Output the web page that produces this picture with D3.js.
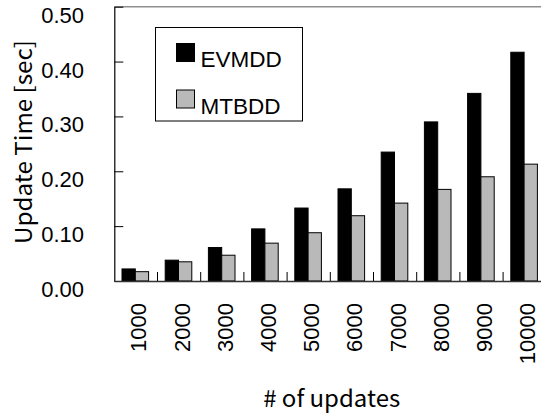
<!DOCTYPE html>
<html>
<head>
<meta charset="utf-8">
<script src="https://cdn.jsdelivr.net/npm/d3@7"></script>
<style>
  html, body { margin: 0; padding: 0; background: #fff; }
  svg { display: block; }
</style>
</head>
<body>
<div id="chart"></div>
<script>
// ---- data ----
const categories = ["1000","2000","3000","4000","5000","6000","7000","8000","9000","10000"];
const seriesNames = ["EVMDD", "MTBDD"];
const evmdd = [0.022, 0.038, 0.061, 0.095, 0.133, 0.168, 0.235, 0.290, 0.342, 0.417];
const mtbdd = [0.017, 0.035, 0.047, 0.069, 0.088, 0.119, 0.142, 0.167, 0.190, 0.213];
const yTicks = [0.00, 0.10, 0.20, 0.30, 0.40, 0.50];
const yTitle = "Update Time [sec]";
const xTitle = "# of updates";

// ---- layout ----
const W = 541, H = 415;
const plotLeft = 114.3, plotTop = 6.7, plotBottom = 281;
const band = 43.2;
const colors = { EVMDD: "#000000", MTBDD: "#b9b9b9" };
const labelFont = "'Liberation Sans', Arial, sans-serif";
const titleFont = "'Noto Sans CJK JP', 'Noto Sans', sans-serif";

const svg = d3.select("#chart").append("svg")
  .attr("width", W).attr("height", H);

const x = d3.scaleBand().domain(categories)
  .range([plotLeft, plotLeft + band * categories.length]).padding(0);
const y = d3.scaleLinear().domain([0, 0.5]).range([plotBottom, plotTop]);

const barW = 13.3;
const groups = categories.map((c, i) => ({ c, vals: [evmdd[i], mtbdd[i]] }));

// top border
svg.append("line")
  .attr("x1", plotLeft).attr("x2", W).attr("y1", y(0.5)).attr("y2", y(0.5))
  .attr("stroke", "#8f8f8f").attr("stroke-width", 1.6);

// bars
const g = svg.append("g");
groups.forEach(gr => {
  const cx = x(gr.c) + x.bandwidth() / 2 - 0.6;
  gr.vals.forEach((v, k) => {
    g.append("rect")
      .attr("x", cx - barW + k * barW)
      .attr("y", y(v))
      .attr("width", barW)
      .attr("height", y(0) - y(v))
      .attr("fill", colors[seriesNames[k]])
      .attr("stroke", "#000").attr("stroke-width", 1);
  });
});

// y axis
const yAxis = d3.axisLeft(y).tickValues(yTicks).tickFormat(d3.format(".2f"))
  .tickSizeInner(-9).tickSizeOuter(0).tickPadding(30.3);
const ya = svg.append("g").attr("transform", `translate(${plotLeft},0)`).call(yAxis);
ya.select(".domain").attr("stroke", "#000").attr("stroke-width", 1.2);
ya.selectAll(".tick line").attr("stroke", "#000");
ya.selectAll(".tick text")
  .attr("dy", 15.5)
  .style("font-family", labelFont).style("font-size", "22px").attr("fill", "#000");

// x axis (labels at band centres, ticks at band boundaries)
const xAxis = d3.axisBottom(x).tickSize(0).tickPadding(0);
const xa = svg.append("g").attr("transform", `translate(0,${plotBottom})`).call(xAxis);
xa.select(".domain").attr("stroke", "#333").attr("stroke-width", 1.5);
xa.selectAll(".tick text")
  .attr("transform", "rotate(-90)")
  .attr("x", -22).attr("y", 10.5).attr("dy", 0)
  .attr("text-anchor", "end")
  .style("font-family", labelFont).style("font-size", "22px").attr("fill", "#000");

svg.append("g").selectAll("line")
  .data(categories.slice(1))
  .join("line")
  .attr("x1", d => x(d)).attr("x2", d => x(d))
  .attr("y1", plotBottom).attr("y2", plotBottom - 9)
  .attr("stroke", "#000").attr("stroke-width", 1);

// axis titles
svg.append("text")
  .attr("transform", `translate(31.5,142) rotate(-90)`)
  .attr("text-anchor", "middle")
  .attr("textLength", 204).attr("lengthAdjust", "spacingAndGlyphs")
  .style("font-family", titleFont).style("font-size", "23px")
  .text(yTitle);

svg.append("text")
  .attr("x", 331.7).attr("y", 407)
  .attr("text-anchor", "middle")
  .attr("textLength", 137).attr("lengthAdjust", "spacingAndGlyphs")
  .style("font-family", titleFont).style("font-size", "23px")
  .text(xTitle);

// legend
const lg = svg.append("g");
lg.append("rect")
  .attr("x", 155.5).attr("y", 27.5).attr("width", 147).attr("height", 93.5)
  .attr("fill", "#fff").attr("stroke", "#000").attr("stroke-width", 1);
seriesNames.forEach((name, i) => {
  const yy = 43.5 + i * 46.5;
  lg.append("rect")
    .attr("x", 176.5).attr("y", yy).attr("width", 18).attr("height", 18)
    .attr("fill", colors[name]).attr("stroke", "#000").attr("stroke-width", 1);
  lg.append("text")
    .attr("x", 200.5).attr("y", yy + 23.5)
    .style("font-family", labelFont).style("font-size", "22.5px")
    .text(name);
});
</script>
</body>
</html>
